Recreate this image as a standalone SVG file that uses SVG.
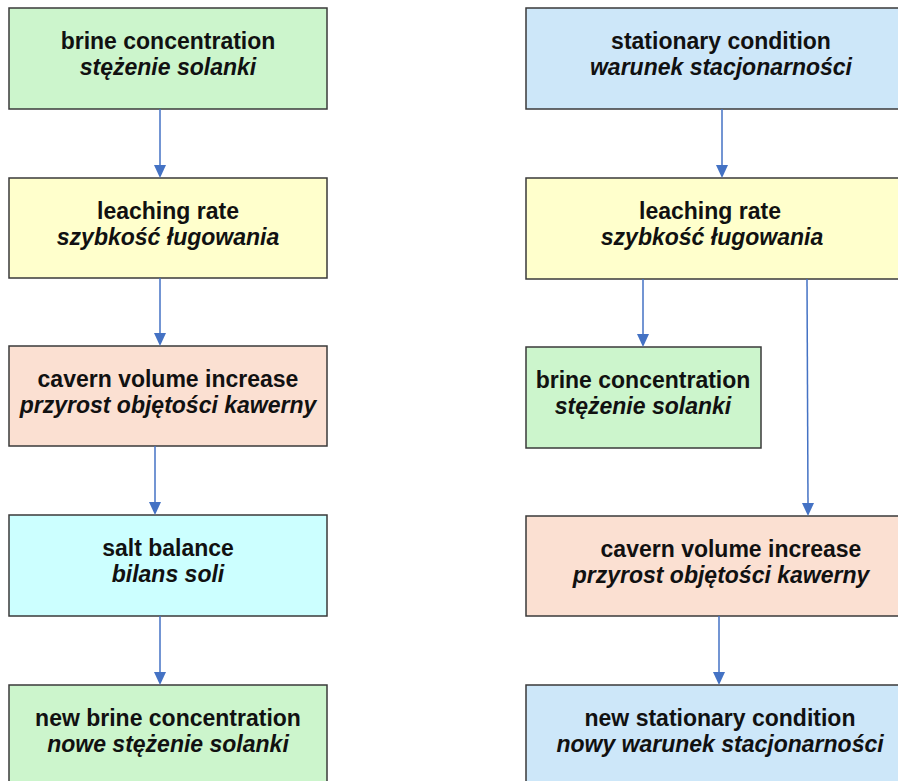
<svg xmlns="http://www.w3.org/2000/svg" width="898" height="781" viewBox="0 0 898 781">
<defs>
<marker id="ah" markerWidth="12" markerHeight="13" refX="6" refY="12" orient="auto" markerUnits="userSpaceOnUse" viewBox="0 0 12 13">
<path d="M0,0 L12,0 L6,13 Z" fill="#4472c4" transform="rotate(-90 6 6.5) translate(0,0)"/>
</marker>
<style>
.box{stroke:#3a3a3a;stroke-width:1.5}
.green{fill:#ccf5cc}
.yellow{fill:#ffffcc}
.pink{fill:#fbe0d2}
.cyan{fill:#ccffff}
.blue{fill:#cde7f9}
.t{font-family:"Liberation Sans",Arial,sans-serif;font-size:23px;font-weight:bold;fill:#111;text-anchor:middle}
.i{font-style:italic}
.c{stroke:#4472c4;stroke-width:1.5;fill:none}
.h{fill:#4472c4}
</style>
</defs>
<rect width="898" height="781" fill="#ffffff"/>
<g id="l1"><rect class="box green" x="9" y="8" width="318" height="101"/><text class="t" x="168" y="49">brine concentration</text><text class="t i" x="168" y="75">stężenie solanki</text></g>
<g id="l2"><rect class="box yellow" x="9" y="178" width="318" height="100"/><text class="t" x="168" y="219">leaching rate</text><text class="t i" x="168" y="245">szybkość ługowania</text></g>
<g id="l3"><rect class="box pink" x="9" y="346" width="318" height="100"/><text class="t" x="168" y="387">cavern volume increase</text><text class="t i" x="168" y="413">przyrost objętości kawerny</text></g>
<g id="l4"><rect class="box cyan" x="9" y="515" width="318" height="101"/><text class="t" x="168" y="556">salt balance</text><text class="t i" x="168" y="582">bilans soli</text></g>
<g id="l5"><rect class="box green" x="9" y="685" width="318" height="102"/><text class="t" x="168" y="726">new brine concentration</text><text class="t i" x="168" y="752">nowe stężenie solanki</text></g>
<g id="r1"><rect class="box blue" x="526" y="8" width="392" height="101"/><text class="t" x="721" y="49">stationary condition</text><text class="t i" x="721" y="75">warunek stacjonarności</text></g>
<g id="r2"><rect class="box yellow" x="526" y="178" width="392" height="101"/><text class="t" x="710" y="219">leaching rate</text><text class="t i" x="712" y="245">szybkość ługowania</text></g>
<g id="r3"><rect class="box green" x="526" y="347" width="235" height="101"/><text class="t" x="643" y="388">brine concentration</text><text class="t i" x="643" y="414">stężenie solanki</text></g>
<g id="r4"><rect class="box pink" x="526" y="516" width="392" height="100"/><text class="t" x="731" y="557">cavern volume increase</text><text class="t i" x="721" y="583">przyrost objętości kawerny</text></g>
<g id="r5"><rect class="box blue" x="526" y="685" width="392" height="102"/><text class="t" x="720" y="726">new stationary condition</text><text class="t i" x="720" y="752">nowy warunek stacjonarności</text></g>
<g id="connectors">
<line class="c" x1="160" y1="109" x2="160" y2="166"/><path class="h" d="M154,165 L166,165 L160,178 Z"/>
<line class="c" x1="160" y1="278" x2="160" y2="334"/><path class="h" d="M154,333 L166,333 L160,346 Z"/>
<line class="c" x1="155" y1="446" x2="155" y2="503"/><path class="h" d="M149,502 L161,502 L155,515 Z"/>
<line class="c" x1="160" y1="616" x2="160" y2="673"/><path class="h" d="M154,672 L166,672 L160,685 Z"/>
<line class="c" x1="722" y1="109" x2="722" y2="166"/><path class="h" d="M716,165 L728,165 L722,178 Z"/>
<line class="c" x1="643" y1="279" x2="643" y2="335"/><path class="h" d="M637,334 L649,334 L643,347 Z"/>
<line class="c" x1="807" y1="279" x2="808" y2="504"/><path class="h" d="M802,503 L814,503 L808,516 Z"/>
<line class="c" x1="719" y1="616" x2="719" y2="673"/><path class="h" d="M713,672 L725,672 L719,685 Z"/>
</g>
</svg>
